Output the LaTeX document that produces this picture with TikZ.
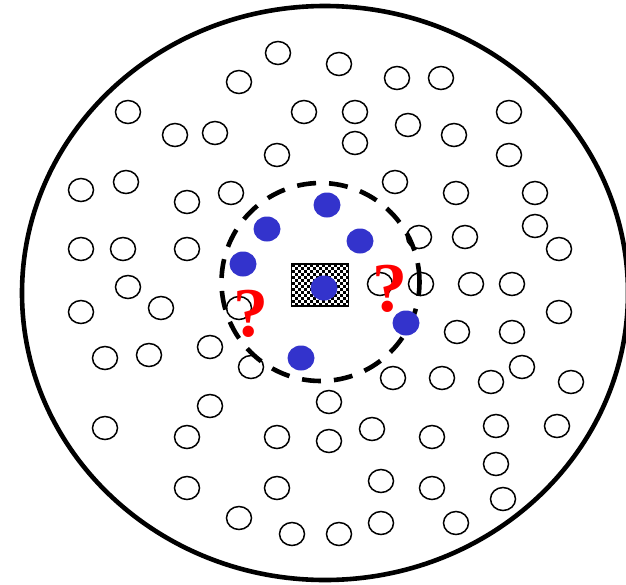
\documentclass[tikz,border=0pt]{standalone}
\usepackage{fontspec}
\setmainfont{Liberation Serif}
\usetikzlibrary{shapes.geometric}
\definecolor{hitblue}{RGB}{51,51,204}

\begin{document}
\begin{tikzpicture}[x=1pt, y=-1pt,
  mol/.style={draw=black, ellipse, line width=1.5pt, fill=white,
    minimum width=25pt, minimum height=23pt, inner sep=0pt},
  hit/.style={fill=hitblue, ellipse, minimum width=27pt, minimum height=25pt, inner sep=0pt},
  ask/.style={text=red, anchor=base, inner sep=0pt,
    font=\fontsize{70}{70}\selectfont\bfseries}]

  \clip (0,0) rectangle (626,584);
  \fill[white] (0,0) rectangle (626,584);

  % outer container
  \draw[line width=4.6pt] (325,293) ellipse [x radius=303, y radius=287];

  % free molecules
  \foreach \px/\py [count=\i] in {
    278/53, 339/64, 239/82, 397/78, 441/78,
    128/112, 304/112, 355/112, 509/112,
    175/135, 215/133, 408/125, 454/135,
    277/155, 355/143, 509/155,
    81/190, 126/182, 187/202, 231/193, 395/182, 456/193, 535/193,
    81/249, 123/249, 187/249, 419/237, 465/237, 535/226, 559/249,
    128/287, 380/284, 421/284, 471/284, 512/284,
    81/312, 161/308, 239/308, 559/312,
    105/358, 149/355, 210/347, 251/367, 457/332, 512/332,
    393/378, 442/378, 491/382, 522/367, 571/382,
    210/406, 329/402,
    105/428, 187/437, 277/437, 329/441, 372/429, 432/437, 496/426, 557/426,
    496/464,
    187/488, 277/488, 381/481, 432/488, 503/499,
    239/518, 292/534, 339/534, 381/523, 456/523}
    \node[mol] (m\i) at (\px,\py) {};

  % capture zone
  \node[draw=black, circle, line width=4.6pt, minimum size=198pt, inner sep=0pt,
    dash pattern=on 19pt off 13pt] (zone) at (320.5,282) {};

  % trap in the middle: checker squares, then its frame
  \fill[white] (291.5,264) rectangle (348.5,306);
  \foreach \c in {0,...,18}
    \foreach \r in {0,...,13} {
      \pgfmathparse{int(mod(\c+\r,2))}
      \ifnum\pgfmathresult=0
        \fill[black] (291.5+3*\c,264+3*\r) rectangle ++(3,3);
      \fi
    }
  \node[draw=black, line width=1.4pt, minimum width=57pt, minimum height=42pt,
    inner sep=0pt] (trap) at (320,285) {};

  % captured molecules
  \node[hit] (b1) at (327,205) {};
  \node[hit] (b2) at (267,229) {};
  \node[hit] (b3) at (360,241) {};
  \node[hit] (b4) at (243,264) {};
  \node[hit] (b5) at (324,288) {};
  \node[hit] (b6) at (406,323) {};
  \node[hit] (b7) at (301,358) {};

  % undecided ones
  \node[ask] (q1) at (251,336) {?};
  \node[ask] (q2) at (390,311) {?};

\end{tikzpicture}
\end{document}
